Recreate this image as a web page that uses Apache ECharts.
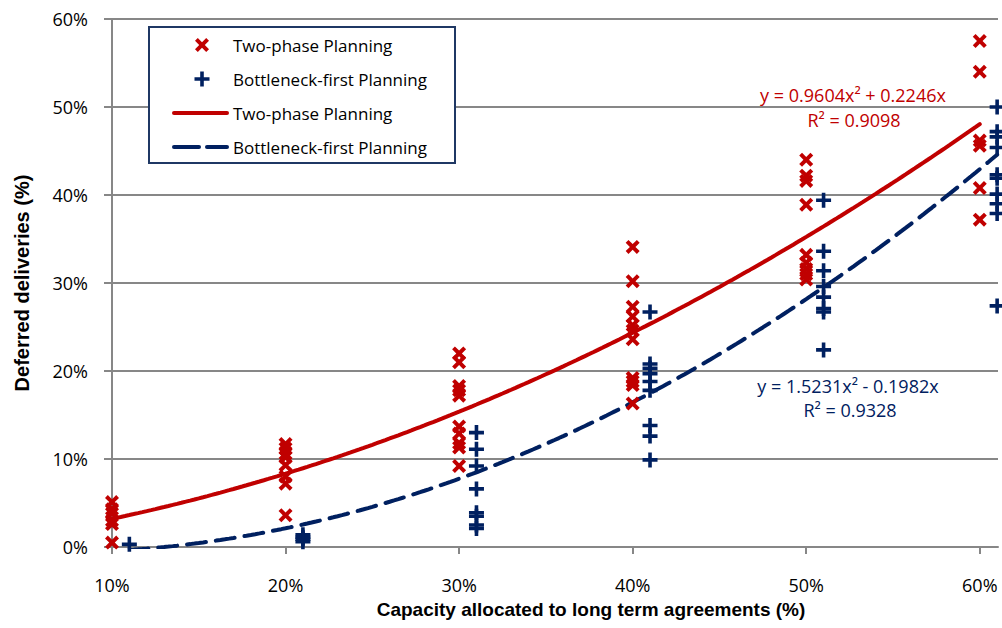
<!DOCTYPE html>
<html>
<head>
<meta charset="utf-8">
<script src="https://cdn.jsdelivr.net/npm/echarts@6/dist/echarts.min.js"></script>
<style>
  html, body { margin: 0; padding: 0; background: #fff; }
  #chart { width: 1002px; height: 628px; }
</style>
</head>
<body>
<div id="chart"></div>
<script>
// Capacity allocated to long term agreements (%) for each observation
var twoPhaseX = [10,10,10,10,10,10,
  20,20,20,20,20,20,20,20,
  30,30,30,30,30,30,30,30,30,30,
  40,40,40,40,40,40,40,40,40,40,40,
  50,50,50,50,50,50,50,50,50,
  60,60,60,60,60,60];
// Deferred deliveries (%) – Two-phase Planning
var twoPhaseY = [5.1,4.3,3.8,3.0,2.6,0.5,
  11.7,11.2,10.6,10.2,9.3,8.0,7.2,3.6,
  22.0,21.0,18.3,17.8,17.2,13.7,12.9,11.8,11.3,9.2,
  34.1,30.2,27.3,26.2,25.2,24.6,23.6,19.2,18.8,18.4,16.3,
  44.0,42.2,41.6,38.9,33.2,32.3,31.6,31.0,30.4,
  57.5,54.0,46.2,45.6,40.8,37.2];

var bottleneckX = [11,
  21,21,21,21,
  31,31,31,31,31,31,31,31,
  41,41,41,41,41,41,41,41,41,
  51,51,51,51,51,51,51,51,
  61,61,61,61,61,61,61,61,61,61];
// Deferred deliveries (%) – Bottleneck-first Planning
var bottleneckY = [0.3,
  1.4,1.1,0.9,0.6,
  13.0,11.1,9.2,6.6,3.9,3.5,2.5,2.1,
  26.7,20.8,20.3,19.7,18.8,17.8,13.8,12.6,9.9,
  39.4,33.6,31.4,29.6,28.4,27.1,26.7,22.4,
  50.0,47.2,46.6,45.4,42.3,41.9,40.1,39.0,37.9,27.4];

// Polynomial trendline coefficients (y = a·x² + b·x, fractions)
var twoPhaseFit = { a: 0.9604, b: 0.2246, r2: '0.9098', from: 10, to: 60 };
var bottleneckFit = { a: 1.5231, b: -0.1982, r2: '0.9328', from: 11, to: 61 };

var xTicks = [10,20,30,40,50,60];

var RED = '#C00000';
var NAVY = '#002060';
var GRID = '#878787';

function pairs(xs, ys) {
  return xs.map(function (x, i) { return [x, ys[i]]; });
}
function curve(fit) {
  var pts = [];
  for (var x = fit.from; x <= fit.to + 1e-9; x += 0.25) {
    var f = x / 100;
    pts.push([x, (fit.a * f * f + fit.b * f) * 100]);
  }
  return pts;
}

// marker outlines in a 10×10 box
var crossPts = [[0,2],[2,0],[5,3],[8,0],[10,2],[7,5],[10,8],[8,10],[5,7],[2,10],[0,8],[3,5]];
var plusPts = [[3.8,0],[6.2,0],[6.2,3.8],[10,3.8],[10,6.2],[6.2,6.2],[6.2,10],[3.8,10],[3.8,6.2],[0,6.2],[0,3.8],[3.8,3.8]];
function toPath(pts) {
  return 'path://' + pts.map(function (p, i) { return (i ? 'L' : 'M') + p[0] + ',' + p[1]; }).join('') + 'Z';
}
function placed(pts, cx, cy, size) {
  return pts.map(function (p) { return [cx + (p[0] - 5) * size / 10, cy + (p[1] - 5) * size / 10]; });
}

var FONT = '"Open Sans", "Liberation Sans", sans-serif';
var TITLE_FONT = '"Liberation Sans Narrow", "Liberation Sans", sans-serif';

var chart = echarts.init(document.getElementById('chart'), null, { renderer: 'svg' });

var rows = [45, 79, 113, 147];
var legendText = ['Two-phase Planning', 'Bottleneck-first Planning', 'Two-phase Planning', 'Bottleneck-first Planning'];

var graphics = [
  { type: 'rect', z: 10, shape: { x: 149, y: 27, width: 306, height: 136 },
    style: { fill: '#fff', stroke: '#1F3864', lineWidth: 2 } },
  { type: 'polygon', z: 11, shape: { points: placed(crossPts, 202, rows[0], 14) }, style: { fill: RED } },
  { type: 'polygon', z: 11, shape: { points: placed(plusPts, 202, rows[1], 15) }, style: { fill: NAVY } },
  { type: 'line', z: 11, shape: { x1: 174, y1: rows[2], x2: 227, y2: rows[2] },
    style: { stroke: RED, lineWidth: 4, lineCap: 'round' } },
  { type: 'line', z: 11, shape: { x1: 174, y1: rows[3], x2: 199, y2: rows[3] },
    style: { stroke: NAVY, lineWidth: 4, lineCap: 'round' } },
  { type: 'line', z: 11, shape: { x1: 207, y1: rows[3], x2: 227, y2: rows[3] },
    style: { stroke: NAVY, lineWidth: 4, lineCap: 'round' } }
];
legendText.forEach(function (t, i) {
  graphics.push({ type: 'text', z: 11, x: 233, y: rows[i],
    style: { text: t, fill: '#000', font: '17px ' + FONT, verticalAlign: 'middle' } });
});
graphics.push(
  { type: 'text', z: 11, x: 853, y: 95,
    style: { text: 'y = ' + twoPhaseFit.a.toFixed(4) + 'x² + ' + twoPhaseFit.b.toFixed(4) + 'x', fill: RED, font: '18px ' + FONT, align: 'center', verticalAlign: 'middle' } },
  { type: 'text', z: 11, x: 854, y: 120,
    style: { text: 'R² = ' + twoPhaseFit.r2, fill: RED, font: '18px ' + FONT, align: 'center', verticalAlign: 'middle' } },
  { type: 'text', z: 11, x: 848, y: 386,
    style: { text: 'y = ' + bottleneckFit.a.toFixed(4) + 'x² - ' + Math.abs(bottleneckFit.b).toFixed(4) + 'x', fill: NAVY, font: '18px ' + FONT, align: 'center', verticalAlign: 'middle' } },
  { type: 'text', z: 11, x: 850, y: 410,
    style: { text: 'R² = ' + bottleneckFit.r2, fill: NAVY, font: '18px ' + FONT, align: 'center', verticalAlign: 'middle' } },
  { type: 'text', z: 11, x: 591, y: 609,
    style: { text: 'Capacity allocated to long term agreements (%)', fill: '#000',
      font: 'bold 19px ' + TITLE_FONT, align: 'center', verticalAlign: 'middle' } }
);

chart.setOption({
  animation: false,
  backgroundColor: '#fff',
  grid: { left: 112, right: 4, top: 19, bottom: 81, containLabel: false },
  xAxis: {
    type: 'value',
    min: 10, max: 61.05, interval: 10,
    axisLine: { lineStyle: { color: GRID, width: 2 } },
    axisTick: { show: true, inside: false, length: 7, lineStyle: { color: GRID, width: 2 }, customValues: xTicks },
    axisLabel: { customValues: xTicks, margin: 29, fontFamily: FONT, fontSize: 18, color: '#000',
      formatter: function (v) { return v + '%'; } },
    splitLine: { show: false }
  },
  yAxis: {
    type: 'value',
    min: 0, max: 60, interval: 10,
    name: 'Deferred deliveries (%)',
    nameLocation: 'middle', nameGap: 80, nameRotate: 90,
    nameTextStyle: { fontFamily: TITLE_FONT, fontWeight: 'bold', fontSize: 20, color: '#000' },
    axisLine: { show: true, lineStyle: { color: GRID, width: 2 } },
    axisTick: { show: true, inside: false, length: 8, lineStyle: { color: GRID, width: 2 } },
    axisLabel: { margin: 24, fontFamily: FONT, fontSize: 18, color: '#000',
      formatter: function (v) { return v + '%'; } },
    splitLine: { show: true, lineStyle: { color: GRID, width: 2 } }
  },
  series: [
    {
      name: 'Two-phase Planning', type: 'line', data: curve(twoPhaseFit),
      showSymbol: false, z: 3,
      lineStyle: { color: RED, width: 4, cap: 'round' }
    },
    {
      name: 'Bottleneck-first Planning', type: 'line', data: curve(bottleneckFit),
      showSymbol: false, z: 3,
      lineStyle: { color: NAVY, width: 4, type: [19, 10], cap: 'round' }
    },
    {
      name: 'Two-phase Planning', type: 'scatter', data: pairs(twoPhaseX, twoPhaseY),
      symbol: toPath(crossPts), symbolSize: 14, z: 4,
      itemStyle: { color: RED, opacity: 1 }
    },
    {
      name: 'Bottleneck-first Planning', type: 'scatter', data: pairs(bottleneckX, bottleneckY),
      symbol: toPath(plusPts), symbolSize: 15, z: 4,
      itemStyle: { color: NAVY, opacity: 1 }
    }
  ],
  graphic: graphics
});
</script>
</body>
</html>
